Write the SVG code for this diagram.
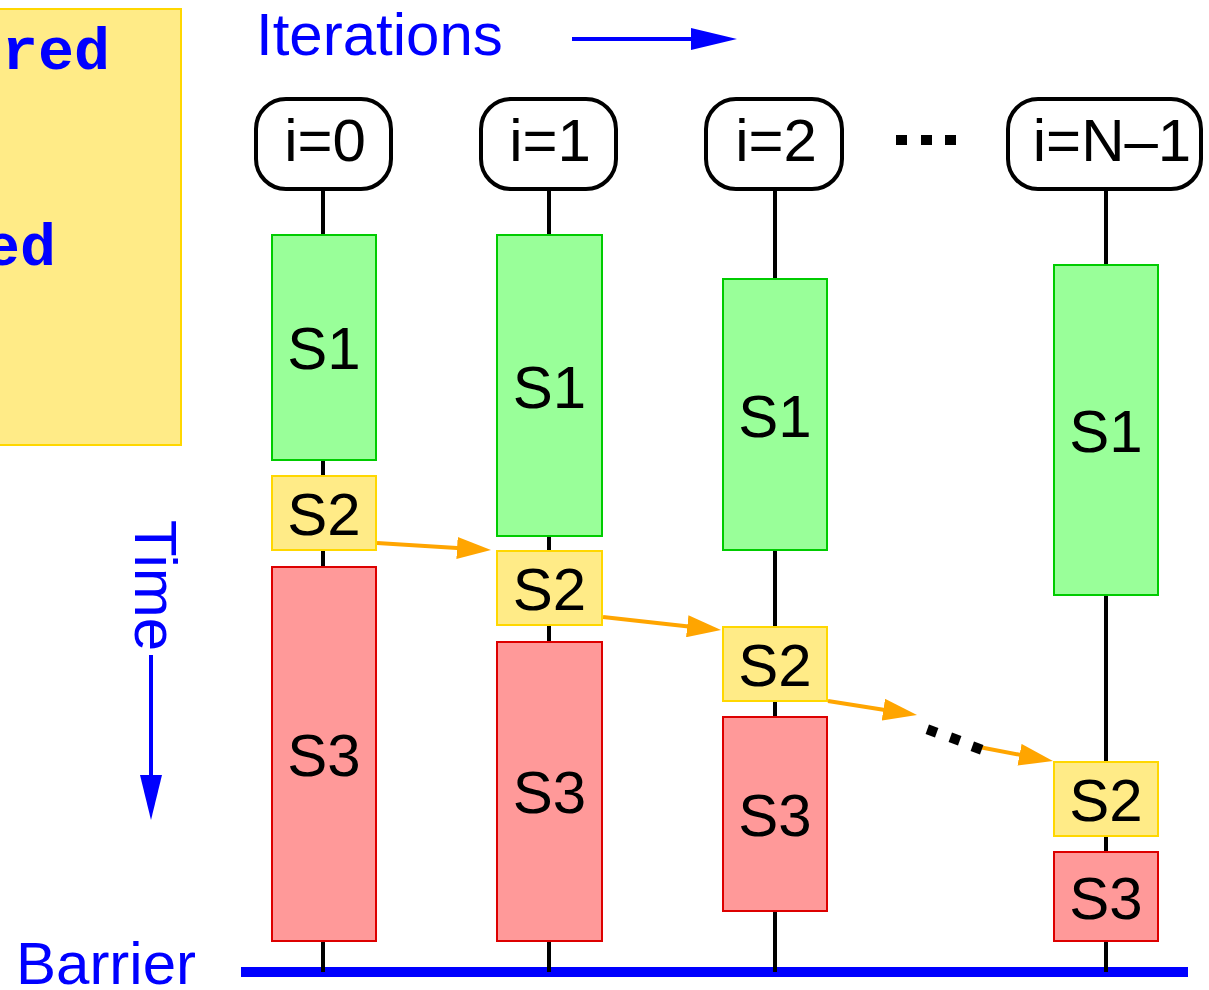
<svg xmlns="http://www.w3.org/2000/svg" width="1209" height="990" viewBox="0 0 1209 990">
<style>
.lbl{font-family:"Liberation Sans",Arial,sans-serif;font-size:60px;fill:#000;text-anchor:middle}
.blue{font-family:"Liberation Sans",Arial,sans-serif;font-size:60px;fill:#0000ff}
.code{font-family:"Liberation Mono","Courier New",monospace;font-size:60px;font-weight:bold;fill:#0000ff;text-anchor:end}
.node{fill:#fff;stroke:#000;stroke-width:4}
.s1{fill:#99ff99;stroke:#00cc00;stroke-width:2}
.s2{fill:#ffeb87;stroke:#ffd700;stroke-width:2}
.s3{fill:#ff9999;stroke:#dd0000;stroke-width:2}
.vline{stroke:#000;stroke-width:4}
.dep{stroke:#ffa500;stroke-width:4;fill:none;marker-end:url(#oh)}
.dot{fill:#000}
</style>
<defs>
<marker id="oh" markerUnits="userSpaceOnUse" markerWidth="34" markerHeight="22" viewBox="0 0 34 22" refX="24" refY="11" orient="auto">
<path d="M0,0 L34,11 L0,22 Z" fill="#ffa500"/>
</marker>
</defs>
<rect width="1209" height="990" fill="#fff"/>

<g id="legend">
<rect x="-5" y="9" width="186" height="436" class="s2"/>
<text class="code" x="110" y="69">red</text>
<text class="code" x="56" y="265">ed</text>
</g>

<g id="iterations-label">
<text class="blue" x="256" y="55">Iterations</text>
<line x1="572" y1="39" x2="695" y2="39" stroke="#0000ff" stroke-width="4"/>
<path d="M691,28 L737,39 L691,50 Z" fill="#0000ff"/>
</g>

<g id="time-label">
<text class="blue" transform="translate(135,520) rotate(90)">Time</text>
<line x1="151" y1="655" x2="151" y2="780" stroke="#0000ff" stroke-width="4"/>
<path d="M140,775 L151,820 L162,775 Z" fill="#0000ff"/>
</g>

<g id="barrier">
<text class="blue" x="16" y="984">Barrier</text>
<line x1="241" y1="972" x2="1188" y2="972" stroke="#0000ff" stroke-width="10"/>
</g>

<g id="connectors">
<line class="vline" x1="323" y1="189" x2="323" y2="972"/>
<line class="vline" x1="549" y1="189" x2="549" y2="972"/>
<line class="vline" x1="775" y1="189" x2="775" y2="972"/>
<line class="vline" x1="1106" y1="189" x2="1106" y2="972"/>
<line class="dep" x1="377" y1="543" x2="481" y2="549.4"/>
<line class="dep" x1="603" y1="617" x2="711.1" y2="628.9"/>
<line class="dep" x1="828" y1="701" x2="907.1" y2="713.4"/>
<line class="dep" x1="979" y1="747" x2="1043.1" y2="759.2"/>
<rect class="dot" x="927" y="726" width="10" height="10" transform="rotate(20 932 731)"/>
<rect class="dot" x="950" y="734" width="10" height="10" transform="rotate(20 955 739)"/>
<rect class="dot" x="972" y="743" width="10" height="10" transform="rotate(20 977 748)"/>
</g>

<g id="dots-top">
<rect class="dot" x="896" y="135" width="11" height="10"/>
<rect class="dot" x="921" y="135" width="11" height="10"/>
<rect class="dot" x="945" y="135" width="11" height="10"/>
</g>

<g id="i0">
<rect class="node" x="256" y="99" width="135" height="90" rx="30"/>
<text class="lbl" x="325" y="161">i=0</text>
</g>
<g id="i1">
<rect class="node" x="481" y="99" width="135" height="90" rx="30"/>
<text class="lbl" x="550" y="161">i=1</text>
</g>
<g id="i2">
<rect class="node" x="706" y="99" width="136" height="90" rx="30"/>
<text class="lbl" x="776" y="161">i=2</text>
</g>
<g id="iN1">
<rect class="node" x="1008" y="99" width="193" height="90" rx="30"/>
<text class="lbl" x="1112" y="161">i=N–1</text>
</g>

<g id="c0s1"><rect class="s1" x="272" y="235" width="104" height="225"/><text class="lbl" x="324" y="369">S1</text></g>
<g id="c0s2"><rect class="s2" x="272" y="476" width="104" height="74"/><text class="lbl" x="324" y="535">S2</text></g>
<g id="c0s3"><rect class="s3" x="272" y="567" width="104" height="374"/><text class="lbl" x="324" y="776">S3</text></g>

<g id="c1s1"><rect class="s1" x="497" y="235" width="105" height="301"/><text class="lbl" x="549.5" y="408">S1</text></g>
<g id="c1s2"><rect class="s2" x="497" y="551" width="105" height="74"/><text class="lbl" x="549.5" y="610">S2</text></g>
<g id="c1s3"><rect class="s3" x="497" y="642" width="105" height="299"/><text class="lbl" x="549.5" y="813">S3</text></g>

<g id="c2s1"><rect class="s1" x="723" y="279" width="104" height="271"/><text class="lbl" x="775" y="437">S1</text></g>
<g id="c2s2"><rect class="s2" x="723" y="627" width="104" height="74"/><text class="lbl" x="775" y="686">S2</text></g>
<g id="c2s3"><rect class="s3" x="723" y="717" width="104" height="194"/><text class="lbl" x="775" y="836">S3</text></g>

<g id="c3s1"><rect class="s1" x="1054" y="265" width="104" height="330"/><text class="lbl" x="1106" y="452">S1</text></g>
<g id="c3s2"><rect class="s2" x="1054" y="762" width="104" height="74"/><text class="lbl" x="1106" y="821">S2</text></g>
<g id="c3s3"><rect class="s3" x="1054" y="852" width="104" height="89"/><text class="lbl" x="1106" y="919">S3</text></g>
</svg>
